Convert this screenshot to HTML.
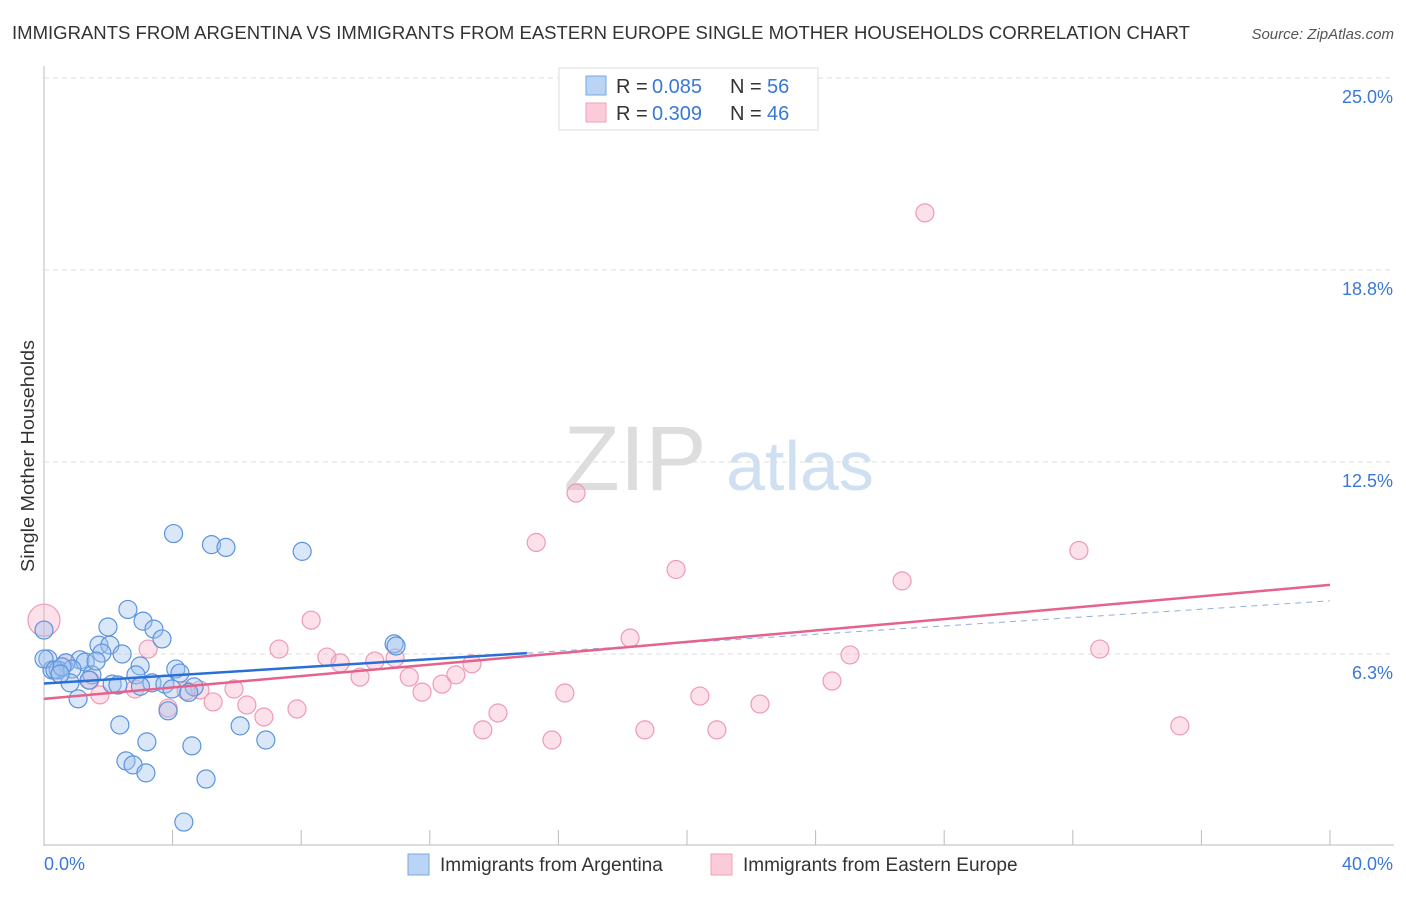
<!DOCTYPE html>
<html><head><meta charset="utf-8"><style>
body{margin:0;background:#fff;font-family:"Liberation Sans",sans-serif;}
svg text{font-family:"Liberation Sans",sans-serif;}
</style></head><body>
<svg id="chart" width="1406" height="892" xmlns="http://www.w3.org/2000/svg">
<text x="12" y="39" font-size="18" fill="#333" textLength="1178" lengthAdjust="spacingAndGlyphs">IMMIGRANTS FROM ARGENTINA VS IMMIGRANTS FROM EASTERN EUROPE SINGLE MOTHER HOUSEHOLDS CORRELATION CHART</text>
<text x="1394" y="39" font-size="15" fill="#555" font-style="italic" text-anchor="end">Source: ZipAtlas.com</text>
<text transform="translate(34,456) rotate(-90)" font-size="18" fill="#333" text-anchor="middle" textLength="232" lengthAdjust="spacingAndGlyphs">Single Mother Households</text>
<g><text x="635" y="490" font-size="92" fill="#ddd" font-family="Liberation Serif" text-anchor="middle">ZIP</text><text x="800" y="490" font-size="70" fill="#cfe0f3" text-anchor="middle">atlas</text></g>
<g id="grid"></g><g id="pts"></g><g id="lines"></g>
<g>
<rect x="559" y="68" width="259" height="62" fill="#fff" stroke="#ddd"/>
<rect x="586" y="76" width="20" height="19" fill="#b9d4f5" stroke="#7aa7e0"/>
<rect x="586" y="103" width="20" height="19" fill="#fbcbd9" stroke="#efa2b8"/>
<text x="616" y="93" font-size="20" fill="#333">R =</text><text x="652" y="93" font-size="20" fill="#3a78d6">0.085</text>
<text x="730" y="93" font-size="20" fill="#333">N =</text><text x="767" y="93" font-size="20" fill="#3a78d6">56</text>
<text x="616" y="120" font-size="20" fill="#333">R =</text><text x="652" y="120" font-size="20" fill="#3a78d6">0.309</text>
<text x="730" y="120" font-size="20" fill="#333">N =</text><text x="767" y="120" font-size="20" fill="#3a78d6">46</text>
</g>
<g>
<rect x="408" y="854" width="21" height="21" fill="#b9d4f5" stroke="#7aa7e0"/>
<text x="440" y="871" font-size="19" fill="#333">Immigrants from Argentina</text>
<rect x="711" y="854" width="21" height="21" fill="#fbcbd9" stroke="#efa2b8"/>
<text x="743" y="871" font-size="19" fill="#333">Immigrants from Eastern Europe</text>
</g>
</svg>
<script>
const yTicks=[6.25,12.5,18.75,25];
const yTickLabels=["6.3%","12.5%","18.8%","25.0%"];
const xTickCount=10;
const blueX=[4.03,5.21,5.66,8.03,2.61,1.99,3.08,3.42,3.67,1.71,2.05,1.8,2.43,0.12,1.12,0.68,1.28,2.99,4.1,0.25,0.44,0.87,1.49,4.23,2.86,2.12,3.36,0.81,2.3,3.76,3.98,4.67,1.06,10.89,10.95,3.86,2.36,6.1,3.2,4.6,6.9,2.55,2.77,3.17,5.04,4.35,0,0,0.34,0.56,1.62,0.5,1.4,3.0,4.5];
const blueY=[10.17,9.81,9.72,9.59,7.7,7.13,7.32,7.06,6.74,6.54,6.54,6.28,6.25,6.09,6.06,5.96,5.99,5.86,5.76,5.73,5.73,5.76,5.57,5.63,5.57,5.27,5.31,5.31,5.24,5.27,5.11,5.18,4.79,6.58,6.51,4.4,3.94,3.91,3.39,3.26,3.45,2.77,2.64,2.38,2.18,0.78,7.03,6.09,5.73,5.83,6.02,5.6,5.4,5.2,5.0];
const pinkX=[27.4,16.55,15.31,32.19,19.66,26.69,8.31,3.24,18.23,7.31,8.8,9.21,10.29,10.92,13.31,25.07,32.84,11.36,12.81,9.83,12.38,11.76,5.91,16.2,4.85,4.42,2.83,1.74,24.51,20.4,5.26,6.31,7.87,3.86,6.84,14.12,22.27,13.65,18.69,20.93,15.8,35.33,0.68,1.43,0];
const pinkY=[20.61,11.49,9.88,9.62,9.0,8.63,7.35,6.41,6.77,6.41,6.15,5.96,6.02,6.12,5.93,6.22,6.41,5.5,5.57,5.5,5.27,5.01,5.11,4.98,5.08,5.05,5.11,4.92,5.37,4.88,4.69,4.59,4.46,4.49,4.2,4.33,4.62,3.78,3.78,3.78,3.45,3.91,5.96,5.4,7.35];
const bluePts=[[0,5.29],[15.02,6.28]];
const pinkPts=[[0,4.79],[40,8.5]];
const blueDash=[[15.02,6.28],[40,7.98]];
const X0=44,X1=1330,Y0=846,YP=192/6.25;
const sx=v=>X0+(v/40)*(X1-X0), sy=v=>Y0-v*YP;
const NS="http://www.w3.org/2000/svg";
function mk(tag,attrs,parent){const e=document.createElementNS(NS,tag);for(const k in attrs)e.setAttribute(k,attrs[k]);parent.appendChild(e);return e;}
const grid=document.getElementById('grid');
const ax=mk('line',{x1:X0,y1:66,x2:X0,y2:846,stroke:'#bbb'},grid);


const bx=mk('line',{x1:X0,y1:845,x2:1394,y2:845,stroke:'#bbb'},grid);


yTicks.forEach((t,i)=>{
 const l=mk('line',{x1:X0,y1:sy(t),x2:1394,y2:sy(t),stroke:'#ddd','stroke-dasharray':'5,4'},grid);
 
 
 const tx=mk('text',{x:1393,y:sy(t)+25,'font-size':18,fill:'#3a78d6','text-anchor':'end'},grid);
 tx.textContent=yTickLabels[i];
 
 
});
for(let i=1;i<=xTickCount;i++){
 const l=mk('line',{x1:sx(i*4),y1:830,x2:sx(i*4),y2:845,stroke:'#bbb'},grid);
 
 
}
const xl=mk('text',{x:44,y:870,'font-size':18,fill:'#3a78d6'},grid);xl.textContent='0.0%';


const xr=mk('text',{x:1393,y:870,'font-size':18,fill:'#3a78d6','text-anchor':'end'},grid);xr.textContent='40.0%';


const pts=document.getElementById('pts');
pinkX.forEach((x,i)=>{
 const c=mk('circle',{cx:sx(x),cy:sy(pinkY[i]),r:i===pinkX.length-1?16:9,fill:'rgba(246,170,195,0.35)',stroke:'#ef9ab5','stroke-width':1.2},pts);
 
 
});
blueX.forEach((x,i)=>{
 const c=mk('circle',{cx:sx(x),cy:sy(blueY[i]),r:9,fill:'rgba(160,196,240,0.4)',stroke:'#5b93dd','stroke-width':1.2},pts);
 
 
});
const lines=document.getElementById('lines');
const d=mk('line',{x1:sx(blueDash[0][0]),y1:sy(blueDash[0][1]),x2:sx(blueDash[1][0]),y2:sy(blueDash[1][1]),stroke:'#8ab0e0','stroke-dasharray':'6,5','stroke-width':1},lines);


const p=mk('line',{x1:sx(pinkPts[0][0]),y1:sy(pinkPts[0][1]),x2:sx(pinkPts[1][0]),y2:sy(pinkPts[1][1]),stroke:'#e5628c','stroke-width':2.5},lines);


const b=mk('line',{x1:sx(bluePts[0][0]),y1:sy(bluePts[0][1]),x2:sx(bluePts[1][0]),y2:sy(bluePts[1][1]),stroke:'#2a6fd6','stroke-width':2.5},lines);


</script>
</body></html>
